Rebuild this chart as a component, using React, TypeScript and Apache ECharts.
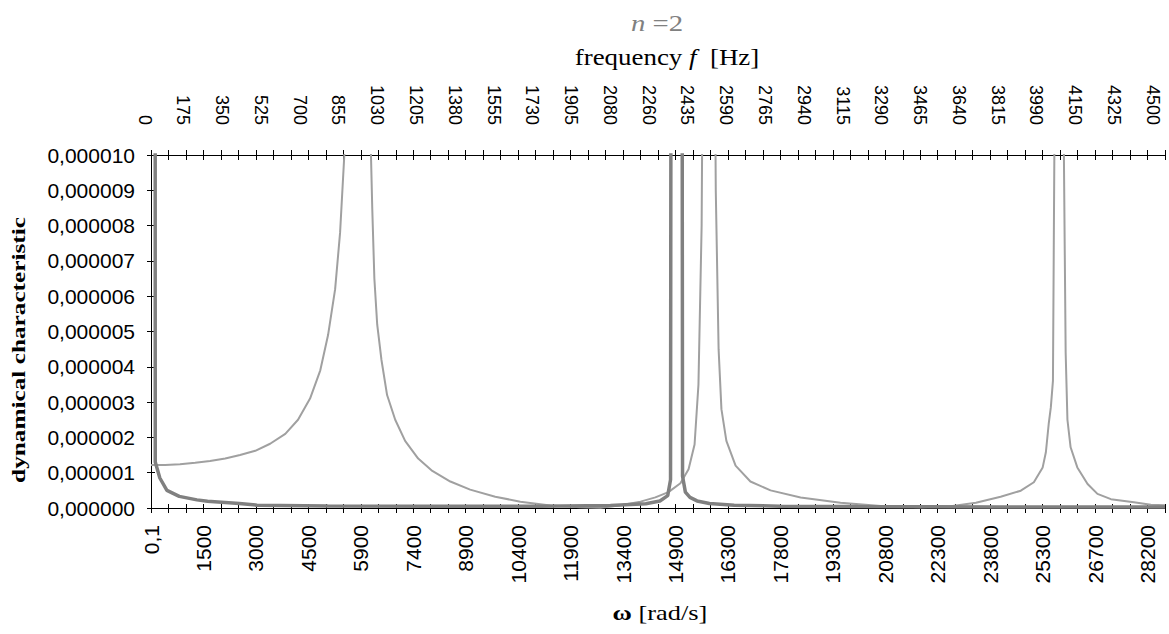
import React, { useEffect, useRef } from "react";
import * as echarts from "echarts";

// ---- tick labels ----
const omegaLabels = ["0,1", "1500", "3000", "4500", "5900", "7400", "8900", "10400", "11900", "13400", "14900", "16300", "17800", "19300", "20800", "22300", "23800", "25300", "26700", "28200"];
const freqLabels = ["0", "175", "350", "525", "700", "855", "1030", "1205", "1380", "1555", "1730", "1905", "2080", "2260", "2435", "2590", "2765", "2940", "3115", "3290", "3465", "3640", "3815", "3990", "4150", "4325", "4500"];

// ---- axis scale (rad/s per labelled step, Hz per labelled step) ----
const OMEGA_STEP = 1484;
const OMEGA_MAX = (OMEGA_STEP * 58) / 3;
const FREQ_STEP = 174;
const Y_MAX = 0.00001;
const Y_STEP = 0.000001;
const MICRO = 1e-6;

// ---- series: thick dark curve ----
const thickOmega = [0.1, 120, 250, 450, 800, 1300, 1600, 2500, 3000, 5000, 8000, 11000, 13000, 14000, 14400, 14620, 14700, 14760, 14880, 14980, 15040, 15120, 15250, 15450, 15800, 16500, 17800, 20000, 24000, 28690];
const thickMicro = [800, 1.3, 0.85, 0.5, 0.33, 0.23, 0.19, 0.13, 0.08, 0.06, 0.05, 0.05, 0.07, 0.12, 0.2, 0.35, 0.8, 60, 80, 60, 0.9, 0.45, 0.3, 0.2, 0.13, 0.08, 0.05, 0.04, 0.03, 0.03];

// ---- series: light curve ----
const lightOmega = [0.1, 400, 820, 1250, 1670, 2100, 2520, 2950, 3370, 3800, 4160, 4500, 4790, 5010, 5210, 5350, 5470, 5830, 6200, 6260, 6320, 6400, 6520, 6680, 6910, 7190, 7560, 7960, 8470, 9030, 9740, 10450, 11300, 12150, 12720, 13280, 13850, 14270, 14640, 14980, 15210, 15380, 15490, 15580, 15780, 15980, 16060, 16140, 16280, 16540, 16960, 17530, 18380, 19510, 20650, 21780, 22630, 23340, 24040, 24610, 24980, 25230, 25320, 25400, 25460, 25520, 25560, 25700, 25830, 25880, 25930, 26020, 26210, 26500, 26780, 27160, 27810, 28290, 28690];
const lightMicro = [1.22, 1.22, 1.24, 1.28, 1.33, 1.4, 1.5, 1.62, 1.82, 2.1, 2.5, 3.1, 3.9, 4.9, 6.2, 7.8, 10, 40, 11, 8.5, 6.5, 5.2, 4.2, 3.2, 2.5, 1.9, 1.4, 1.05, 0.75, 0.52, 0.32, 0.18, 0.07, 0.02, 0.01, 0.08, 0.18, 0.3, 0.45, 0.7, 1.1, 1.8, 3.5, 8, 40, 9, 4.5, 2.8, 1.9, 1.2, 0.75, 0.5, 0.3, 0.15, 0.06, 0.02, 0.05, 0.15, 0.32, 0.49, 0.73, 1.15, 1.58, 2.38, 2.85, 3.6, 10, 40, 10, 4.4, 2.5, 1.72, 1.15, 0.68, 0.4, 0.25, 0.16, 0.09, 0.08];

const toPairs = (xs: number[], ys: number[]) => xs.map((x, i) => [x, ys[i] * MICRO]);

const idxLabel = (labels: string[], step: number) => (v: number) => {
  const i = v / step;
  const r = Math.round(i);
  return Math.abs(i - r) < 1e-6 ? labels[r] ?? "" : "";
};

const SANS = "'Liberation Sans', Arial, sans-serif";
const SERIF = "'Liberation Serif', 'Times New Roman', serif";

export default function App() {
  const ref = useRef<HTMLDivElement>(null);
  useEffect(() => {
    document.body.style.margin = "0";
    if (!ref.current) return;
    const chart = echarts.init(ref.current, undefined, { renderer: "svg" });
    const tickLine = { lineStyle: { color: "#000", width: 1 } };
    const omegaBase = {
      type: "value",
      min: 0,
      max: OMEGA_MAX,
      interval: OMEGA_STEP,
      splitLine: { show: false },
      minorSplitLine: { show: false },
    };
    const yBase = {
      type: "value",
      min: 0,
      max: Y_MAX,
      interval: Y_STEP,
      splitLine: { show: false },
    };
    chart.setOption({
      animation: false,
      backgroundColor: "#fff",
      grid: [
        { left: 151, right: 4, top: 155, bottom: 126 },
        { left: 144.5, right: 16.2, top: 155, bottom: 126 },
        { left: 151, right: 4, top: 155, bottom: 126 },
      ],
      xAxis: [
        {
          ...omegaBase,
          gridIndex: 0,
          position: "bottom",
          axisLine: { show: true, onZero: false, ...tickLine },
          axisTick: { show: true, inside: false, length: 5, ...tickLine },
          minorTick: { show: true, splitNumber: 3, length: 5, ...tickLine },
          axisLabel: {
            rotate: 90,
            margin: 17,
            fontSize: 21,
            fontFamily: SANS,
            color: "#000",
            formatter: idxLabel(omegaLabels, OMEGA_STEP),
          },
        },
        {
          ...omegaBase,
          gridIndex: 0,
          position: "top",
          axisLine: { show: true, onZero: false, ...tickLine },
          axisTick: { show: true, inside: false, length: 5, ...tickLine },
          minorTick: { show: true, splitNumber: 3, length: 5, ...tickLine },
          axisLabel: { show: false },
        },
        {
          type: "value",
          gridIndex: 1,
          position: "top",
          min: 0,
          max: FREQ_STEP * (freqLabels.length - 1),
          interval: FREQ_STEP,
          axisLine: { show: false, onZero: false },
          axisTick: { show: false },
          splitLine: { show: false },
          axisLabel: {
            rotate: 90,
            margin: 30,
            fontSize: 18,
            fontFamily: SANS,
            color: "#000",
            formatter: idxLabel(freqLabels, FREQ_STEP),
          },
        },
        {
          ...omegaBase,
          gridIndex: 2,
          position: "bottom",
          axisLine: { show: false, onZero: false },
          axisTick: { show: true, inside: true, length: 4, ...tickLine },
          minorTick: { show: true, splitNumber: 3, length: 4, ...tickLine },
          axisLabel: { show: false },
        },
        {
          ...omegaBase,
          gridIndex: 2,
          position: "top",
          axisLine: { show: false, onZero: false },
          axisTick: { show: true, inside: true, length: 5, ...tickLine },
          minorTick: { show: true, splitNumber: 3, length: 5, ...tickLine },
          axisLabel: { show: false },
        },
      ],
      yAxis: [
        {
          ...yBase,
          gridIndex: 0,
          position: "left",
          axisLine: { show: true, onZero: false, ...tickLine },
          axisTick: { show: true, inside: false, length: 4, ...tickLine },
          axisLabel: {
            margin: 16,
            fontSize: 21,
            fontFamily: SANS,
            color: "#000",
            formatter: (v: number) => v.toFixed(6).replace(".", ","),
          },
        },
        {
          type: "value",
          gridIndex: 1,
          min: 0,
          max: 1,
          show: false,
        },
        {
          ...yBase,
          gridIndex: 2,
          position: "left",
          axisLine: { show: false, onZero: false },
          axisTick: { show: true, inside: true, length: 4, ...tickLine },
          axisLabel: { show: false },
        },
      ],
      series: [
        {
          type: "line",
          name: "light",
          xAxisIndex: 0,
          yAxisIndex: 0,
          data: toPairs(lightOmega, lightMicro),
          showSymbol: false,
          symbol: "none",
          clip: true,
          lineStyle: { color: "#a0a0a0", width: 2 },
          z: 3,
        },
        {
          type: "line",
          name: "thick",
          xAxisIndex: 0,
          yAxisIndex: 0,
          data: toPairs(thickOmega, thickMicro),
          showSymbol: false,
          symbol: "none",
          clip: true,
          lineStyle: { color: "#808080", width: 3.5 },
          z: 4,
        },
      ],
      graphic: [
        {
          type: "text",
          x: 657,
          y: 23,
          scaleX: 1.25,
          style: {
            text: "{i|n} =2",
            rich: {
              i: { fontStyle: "italic", fontFamily: SERIF, fontSize: 23, fill: "#808080" },
            },
            font: `23px ${SERIF}`,
            fill: "#808080",
            align: "center",
            verticalAlign: "middle",
          },
        },
        {
          type: "text",
          x: 667,
          y: 57,
          scaleX: 1.17,
          style: {
            text: "frequency {i|f}  [Hz]",
            rich: {
              i: { fontStyle: "italic", fontFamily: SERIF, fontSize: 23, fill: "#000" },
            },
            font: `23px ${SERIF}`,
            fill: "#000",
            align: "center",
            verticalAlign: "middle",
          },
        },
        {
          type: "text",
          x: 18.5,
          y: 350,
          rotation: Math.PI / 2,
          scaleX: 1.33,
          style: {
            text: "dynamical characteristic",
            font: `bold 19px ${SERIF}`,
            fill: "#000",
            align: "center",
            verticalAlign: "middle",
          },
        },
        {
          type: "text",
          x: 660,
          y: 612,
          scaleX: 1.2,
          style: {
            text: "{b|ω} [rad/s]",
            rich: {
              b: { fontWeight: "bold", fontFamily: SERIF, fontSize: 22, fill: "#000" },
            },
            font: `22px ${SERIF}`,
            fill: "#000",
            align: "center",
            verticalAlign: "middle",
          },
        },
      ],
    });
    return () => chart.dispose();
  }, []);
  return <div ref={ref} style={{ width: 1169, height: 634 }} />;
}
